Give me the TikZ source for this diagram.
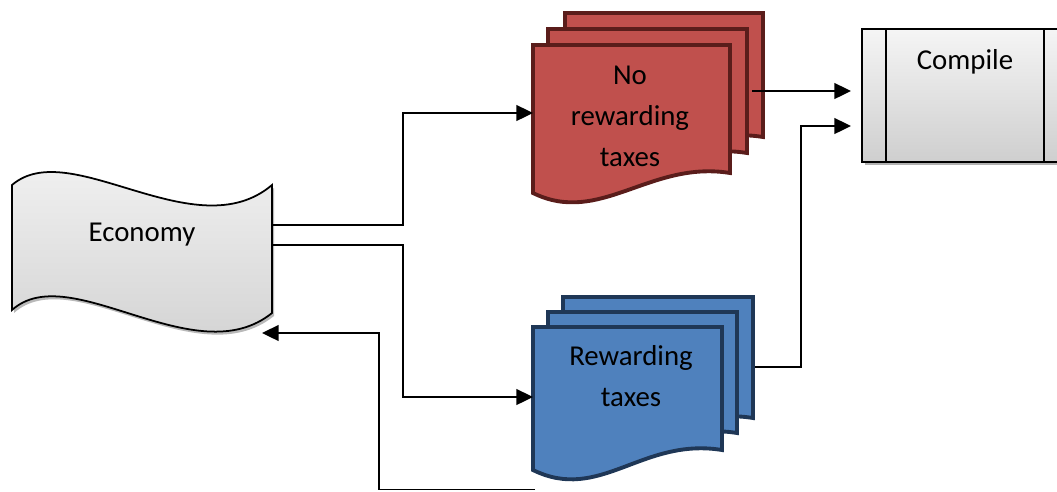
\documentclass[tikz,border=0pt]{standalone}
\usepackage{fontspec}
\setmainfont{Carlito}
\usetikzlibrary{arrows.meta,positioning}

\definecolor{taxred}{HTML}{C0504D}
\definecolor{taxredline}{HTML}{5A1D1B}
\definecolor{taxblue}{HTML}{4F81BD}
\definecolor{taxblueline}{HTML}{1F3756}

% one sheet of a document stack: style, left, top, right, bottom
\newcommand{\taxsheet}[5]{%
  \draw[#1] (#2,#3) -- (#4,#3) -- (#4,#5)
    .. controls +(-80,-13) and +(67,33) .. (#2,#5+20) -- cycle;}

\tikzset{
  conn/.style={line width=1.1pt,-{Triangle[length=9.5pt,width=9pt]}},
  boxtext/.style={font=\fontsize{16.4}{23.3}\selectfont,align=center,inner sep=0pt},
  redsheet/.style={fill=taxred,draw=taxredline,line width=2.2pt},
  bluesheet/.style={fill=taxblue,draw=taxblueline,line width=2.2pt},
  greybox/.style={top color=gray!8,bottom color=gray!38,draw=black},
}

\begin{document}
\begin{tikzpicture}[x=0.02cm,y=-0.02cm]
  \useasboundingbox (0,0) rectangle (1057,491);

  % economy tape, shadow first
  \fill[gray!55,shift={(2,3)}] (12,185) .. controls (70,135) and (195,250) .. (272,185)
    -- (272,313) .. controls (195,375) and (70,258) .. (12,310) -- cycle;
  \draw[greybox,line width=1pt] (12,185) .. controls (70,135) and (195,250) .. (272,185)
    -- (272,313) .. controls (195,375) and (70,258) .. (12,310) -- cycle;
  \node[boxtext] (eco) at (142,235) {Economy};

  % compile box
  \fill[gray!60] (865,32) rectangle (1071,165);
  \draw[greybox,line width=0.9pt] (862,29) rectangle (1068,162);
  \draw[line width=0.9pt] (886,29) -- (886,162) (1044,29) -- (1044,162);
  \node[boxtext] (cmp) at (965,62) {Compile};

  % red stack
  \taxsheet{redsheet}{565}{13}{763}{137}
  \taxsheet{redsheet}{548}{29}{747}{153}
  \taxsheet{redsheet}{533}{45}{730}{173}
  \node[boxtext] (nrt) at (630,116) {No\\rewarding\\taxes};

  % blue stack
  \taxsheet{bluesheet}{563}{297}{753}{418}
  \taxsheet{bluesheet}{548}{312}{737}{433}
  \taxsheet{bluesheet}{533}{327}{722}{450}
  \node[boxtext] (rt) at (631,376) {Rewarding\\taxes};

  % connector ends
  \coordinate (eco-a) at (272,225);
  \coordinate (eco-b) at (272,245);
  \coordinate (eco-in) at (262,333);
  \coordinate (nrt-in) at (533,113);
  \coordinate (nrt-out) at (752,91);
  \coordinate (rt-in) at (533,397);
  \coordinate (rt-out) at (755,367);
  \coordinate (rt-back) at (535,489.5);
  \coordinate (cmp-a) at (851,91);
  \coordinate (cmp-b) at (851,126);

  \draw[conn] (eco-a) -- ++(131,0) |- (nrt-in);
  \draw[conn] (eco-b) -- ++(131,0) |- (rt-in);
  \draw[conn] (nrt-out) -- (cmp-a);
  \draw[conn] (rt-out) -- ++(46,0) |- (cmp-b);
  \draw[conn] (rt-back) -- ++(-156,0) |- (eco-in);
\end{tikzpicture}
\end{document}
